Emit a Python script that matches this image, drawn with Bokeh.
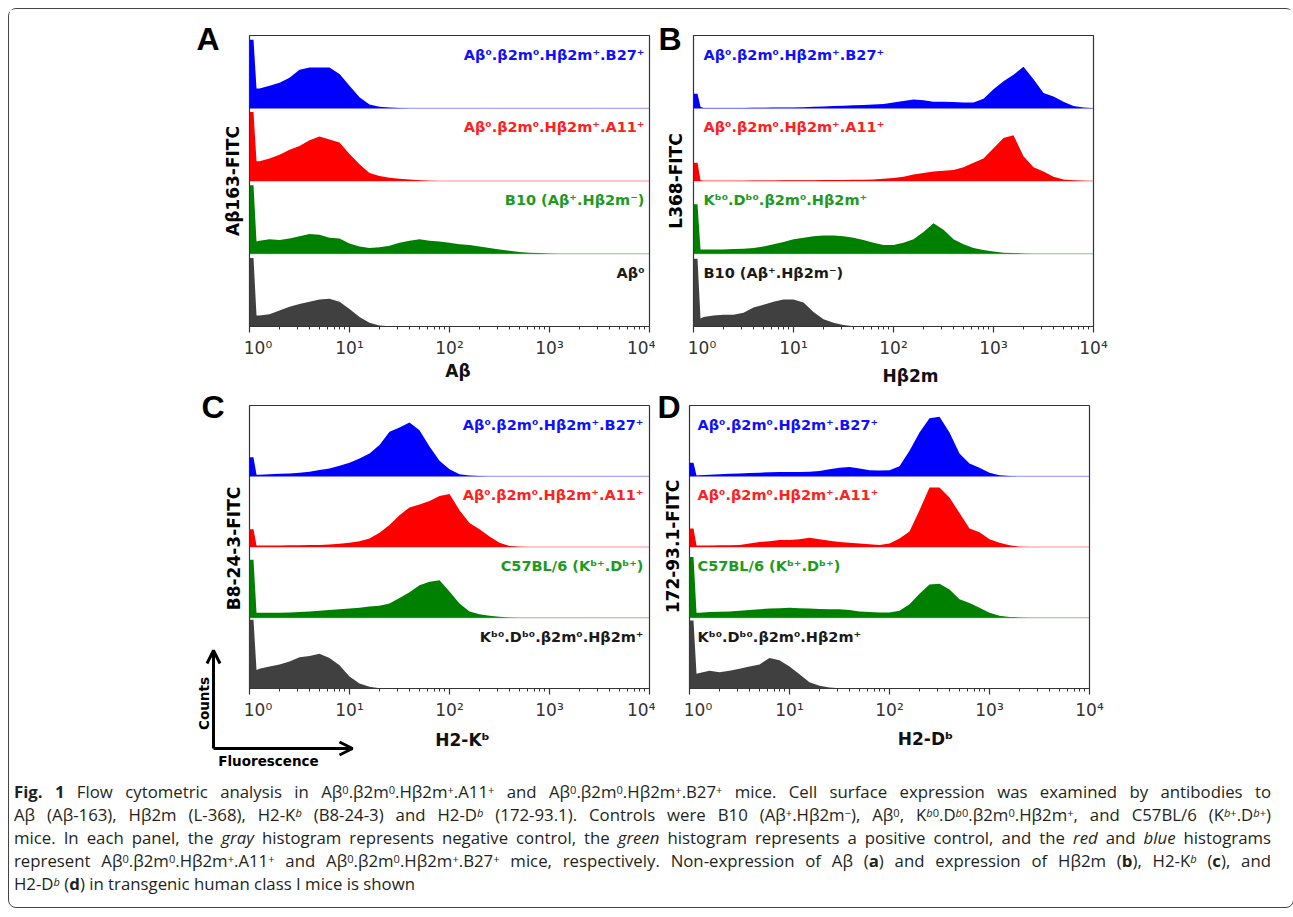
from math import pi
from bokeh.plotting import figure
from bokeh.models import Label, FixedTicker, Arrow, OpenHead, Div, LinearAxis
from bokeh.layouts import row, column
from bokeh.embed import file_html
from bokeh.resources import INLINE

# ---------------- data ----------------
# fluorescence positions (log10 of intensity) shared by all histograms
X_LOG10 = [0.0, 0.04, 0.07,
           0.1, 0.2, 0.3, 0.4, 0.5, 0.6, 0.7, 0.8, 0.9, 1.0,
           1.1, 1.2, 1.3, 1.4, 1.5, 1.6, 1.7, 1.8, 1.9, 2.0,
           2.1, 2.2, 2.3, 2.4, 2.5, 2.6, 2.7, 2.8, 2.9, 3.0,
           3.1, 3.2, 3.3, 3.4, 3.5, 3.6, 3.7, 3.8, 3.9, 4.0]

# counts, in percent of the height of one histogram strip
A_BLUE = [94, 94, 27,
          27, 31, 35, 42, 53, 56, 56, 56, 47, 31,
          15, 5, 2, 1, 0.5, 0, 0, 0, 0, 0,
          0, 0, 0, 0, 0, 0, 0, 0, 0, 0,
          0, 0, 0, 0, 0, 0, 0, 0, 0, 0]
A_RED = [95, 95, 27,
         27, 31, 36, 43, 48, 56, 61, 57, 53, 37,
         23, 11, 7, 4.5, 3, 2, 1, 0.5, 0, 0,
         0, 0, 0, 0, 0, 0, 0, 0, 0, 0,
         0, 0, 0, 0, 0, 0, 0, 0, 0, 0]
A_GREEN = [94, 94, 17,
           18, 20, 19, 21, 24, 27, 26, 22, 21, 14,
           10, 8, 9, 11, 15, 18, 20, 18, 17, 15,
           13, 12, 10, 8, 6, 4, 2.5, 1.5, 1, 0.5,
           0, 0, 0, 0, 0, 0, 0, 0, 0, 0]
A_GRAY = [94, 94, 15,
          15, 17, 22, 27, 31, 34, 37, 38, 34, 24,
          13, 5, 1.5, 0.5, 0, 0, 0, 0, 0, 0,
          0, 0, 0, 0, 0, 0, 0, 0, 0, 0,
          0, 0, 0, 0, 0, 0, 0, 0, 0, 0]

B_BLUE = [20, 20, 2,
          0.5, 0.5, 0.5, 0.5, 0.5, 0.8, 0.8, 1, 1, 1.2,
          1.5, 2, 2.5, 3, 3.5, 4, 4.5, 5, 6, 8,
          10, 12, 11, 9, 9, 8.5, 8, 8, 13, 26,
          37, 46, 57, 40, 21, 16, 9, 3, 1, 0]
B_RED = [25, 25, 1,
         0.5, 0.5, 0.5, 0.5, 0.5, 0.6, 0.7, 0.8, 0.9, 1,
         1.1, 1.2, 1.3, 1.4, 1.5, 1.7, 1.8, 2, 3, 4,
         6, 9, 11, 13, 14, 15, 19, 25, 31, 45,
         59, 63, 34, 19, 13, 6, 2, 1, 0.5, 0]
B_GREEN = [68, 68, 6,
           6, 6, 6, 6.5, 7, 8, 10, 13, 16, 20,
           22, 24, 25, 25, 24, 22, 19, 15, 12, 12,
           15, 20, 30, 42, 33, 20, 13, 8, 5, 3,
           1.5, 1, 0.5, 0, 0, 0, 0, 0, 0, 0]
B_GRAY = [93, 93, 11,
          13, 15, 16, 16, 19, 26, 30, 34, 37, 37,
          33, 20, 10, 5, 2, 0.5, 0, 0, 0, 0,
          0, 0, 0, 0, 0, 0, 0, 0, 0, 0,
          0, 0, 0, 0, 0, 0, 0, 0, 0, 0]

C_BLUE = [27, 27, 2,
          2, 3, 3.5, 4, 5, 6.5, 9, 11, 15, 19,
          25, 32, 44, 63, 69, 76, 65, 42, 22, 10,
          3, 1, 0.3, 0, 0, 0, 0, 0, 0, 0,
          0, 0, 0, 0, 0, 0, 0, 0, 0, 0]
C_RED = [25, 25, 2,
         2, 2, 2, 2.5, 2.5, 3, 3, 3.5, 4.5, 6,
         8, 12, 20, 31, 45, 56, 60, 65, 72, 75,
         52, 34, 25, 15, 6, 1.5, 0.5, 0, 0, 0,
         0, 0, 0, 0, 0, 0, 0, 0, 0, 0]
C_GREEN = [82, 82, 7,
           7, 7, 7, 7.5, 8, 9, 10, 11, 12, 13,
           14, 16, 17, 20, 28, 36, 46, 51, 53, 37,
           20, 9, 5, 3, 1.5, 0.5, 0, 0, 0, 0,
           0, 0, 0, 0, 0, 0, 0, 0, 0, 0]
C_GRAY = [97, 97, 26,
          28, 31, 34, 38, 44, 46, 49, 43, 33, 17,
          7, 2.5, 0.5, 0, 0, 0, 0, 0, 0, 0,
          0, 0, 0, 0, 0, 0, 0, 0, 0, 0,
          0, 0, 0, 0, 0, 0, 0, 0, 0, 0]

D_BLUE = [19, 19, 1,
          1.5, 2, 3, 3.5, 4, 4.5, 5, 5.5, 6, 6,
          6, 6.5, 7.5, 10, 12, 13, 11, 8.5, 8, 8.5,
          14, 36, 62, 82, 84, 62, 32, 18, 12, 5,
          1.5, 0.5, 0, 0, 0, 0, 0, 0, 0, 0]
D_RED = [26, 26, 2,
         2, 2, 2.5, 2.5, 3, 5, 7, 8, 10, 10,
         11, 13, 11, 9, 7, 6, 5, 4, 3, 5,
         12, 22, 52, 84, 84, 70, 48, 26, 21, 11,
         6, 2.5, 0.5, 0, 0, 0, 0, 0, 0, 0]
D_GREEN = [86, 86, 7,
           7, 8, 8.5, 9, 10, 11, 12, 13, 13.5, 14,
           13.5, 13, 12.5, 12, 12, 11, 9, 8, 7.5, 7.5,
           10, 19, 34, 47, 48, 40, 26, 21, 14, 7,
           3, 1, 0.5, 0, 0, 0, 0, 0, 0, 0]
D_GRAY = [96, 96, 21,
          22, 25, 23, 25, 28, 31, 34, 43, 40, 31,
          20, 9, 4, 1.5, 0.5, 0, 0, 0, 0, 0,
          0, 0, 0, 0, 0, 0, 0, 0, 0, 0,
          0, 0, 0, 0, 0, 0, 0, 0, 0, 0]

PANEL_LETTERS = ["A", "B", "C", "D"]
X_TITLES = ["Aβ", "Hβ2m", "H2-Kᵇ", "H2-Dᵇ"]
Y_TITLES = ["Aβ163-FITC", "L368-FITC", "B8-24-3-FITC", "172-93.1-FITC"]
LBL_B27 = "Aβ⁰.β2m⁰.Hβ2m⁺.B27⁺"
LBL_A11 = "Aβ⁰.β2m⁰.Hβ2m⁺.A11⁺"
A_LABELS = [LBL_B27, LBL_A11, "B10 (Aβ⁺.Hβ2m⁻)", "Aβ⁰"]
B_LABELS = [LBL_B27, LBL_A11, "Kᵇ⁰.Dᵇ⁰.β2m⁰.Hβ2m⁺", "B10 (Aβ⁺.Hβ2m⁻)"]
C_LABELS = [LBL_B27, LBL_A11, "C57BL/6 (Kᵇ⁺.Dᵇ⁺)", "Kᵇ⁰.Dᵇ⁰.β2m⁰.Hβ2m⁺"]
D_LABELS = [LBL_B27, LBL_A11, "C57BL/6 (Kᵇ⁺.Dᵇ⁺)", "Kᵇ⁰.Dᵇ⁰.β2m⁰.Hβ2m⁺"]
TICKS = [1, 10, 100, 1000, 10000]
TICK_LABELS = ["\u2002\u200210⁰", "10¹", "10²", "10³", "10⁴"]

FILL_COLORS = ["#0000FF", "#FF0000", "#008000", "#404040"]
TEXT_COLORS = ["#1010FF", "#FF2020", "#1E9A1E", "#1A1A1A"]

FONT = "DejaVu Sans"
XS = [10 ** v for v in X_LOG10]
MINOR = [m * 10 ** d for d in range(4) for m in range(2, 10)]

# layout / style settings per panel (pixels)
PANELS = [
    dict(series=[A_BLUE, A_RED, A_GREEN, A_GRAY], labels=A_LABELS, align="right",
         fh=291, bl=240, br=6, bt=26, bb=66, let_y=3.95, let_so=0, ysoff=7,
         xpad="\u2003", xsoff=0, ldx=395),
    dict(series=[B_BLUE, B_RED, B_GREEN, B_GRAY], labels=B_LABELS, align="left",
         fh=291, bl=34, br=200, bt=26, bb=66, let_y=3.95, let_so=-19, ysoff=8,
         xpad="\u2003\u2003", xsoff=5, ldx=10),
    dict(series=[C_BLUE, C_RED, C_GREEN, C_GRAY], labels=C_LABELS, align="right",
         fh=283, ldx=394, box=(240, 6, 13, 85), let=(-48, 282), yt=(-16, 140),
         xt=(213, -51), key=True),
    dict(series=[D_BLUE, D_RED, D_GREEN, D_GRAY], labels=D_LABELS, align="left",
         fh=283, ldx=8, box=(34, 200, 13, 85), let=(-32, 282), yt=(-17, 142),
         xt=(236, -50), key=False),
]


def style_xaxis(ax):
    ax.ticker = FixedTicker(ticks=TICKS, minor_ticks=MINOR)
    ax.major_label_overrides = {t: s for t, s in zip(TICKS, TICK_LABELS)}
    ax.axis_line_color = "#333333"
    ax.axis_line_width = 1.2
    ax.major_tick_line_color = "#333333"
    ax.major_tick_line_width = 1.2
    ax.major_tick_out = 6
    ax.major_tick_in = 0
    ax.minor_tick_line_color = "#333333"
    ax.minor_tick_out = 3
    ax.minor_tick_in = 0
    ax.major_label_standoff = 5
    ax.major_label_text_font = FONT
    ax.major_label_text_font_size = "17px"
    ax.major_label_text_color = "#333333"


def add_histograms(p, cfg, sp):
    for i, vals in enumerate(cfg["series"]):
        base = 3 - i
        p.varea(x=XS, y1=[base] * len(XS), y2=[base + v / 100.0 for v in vals],
                fill_color=FILL_COLORS[i])
        if i < 3:
            p.segment(x0=[1], x1=[10000], y0=[base], y1=[base],
                      line_color=FILL_COLORS[i], line_width=1, line_alpha=0.45)
        p.add_layout(Label(x=10 ** (cfg["ldx"] / 100.0), y=base + 1 - 19 / sp,
                           text=cfg["labels"][i],
                           text_align=cfg["align"], text_baseline="middle",
                           text_font=FONT, text_font_style="bold", text_font_size="14.5px",
                           text_color=TEXT_COLORS[i]))


def make_panel(k):
    cfg = PANELS[k]
    fh = cfg["fh"]
    sp = fh / 4.0  # pixels per strip

    p = figure(title=None, frame_width=400, frame_height=fh, x_axis_type="log",
               x_range=(1, 10000), y_range=(0, 4), frame_align=False,
               output_backend="svg", toolbar_location=None,
               min_border_left=cfg["bl"], min_border_right=cfg["br"],
               min_border_top=cfg["bt"], min_border_bottom=cfg["bb"],
               background_fill_color="white", border_fill_color="white",
               outline_line_color="#333333", outline_line_width=1.2)
    p.xgrid.visible = False
    p.ygrid.visible = False

    # y axis: only its title is shown
    yax = p.yaxis[0]
    yax.ticker = FixedTicker(ticks=[])
    yax.axis_line_color = None
    yax.major_tick_line_color = None
    yax.minor_tick_line_color = None
    yax.axis_label = Y_TITLES[k]
    yax.axis_label_text_font = FONT
    yax.axis_label_text_font_style = "bold"
    yax.axis_label_text_font_size = "17px"
    yax.axis_label_text_color = "black"
    yax.axis_label_standoff = cfg["ysoff"]

    # second left axis carrying the panel letter
    lax = LinearAxis(ticker=FixedTicker(ticks=[cfg["let_y"]]),
                     major_label_overrides={cfg["let_y"]: PANEL_LETTERS[k]},
                     axis_line_color=None, major_tick_line_color=None,
                     minor_tick_line_color=None, major_tick_out=0, major_tick_in=0,
                     major_label_standoff=cfg["let_so"],
                     major_label_text_font="Liberation Sans",
                     major_label_text_font_style="bold",
                     major_label_text_font_size="32px",
                     major_label_text_color="black")
    p.add_layout(lax, "left")

    ax = p.xaxis[0]
    style_xaxis(ax)
    ax.axis_label = cfg["xpad"] + X_TITLES[k]
    ax.axis_label_text_font = FONT
    ax.axis_label_text_font_style = "bold"
    ax.axis_label_text_font_size = "17px"
    ax.axis_label_text_color = "#111111"
    ax.axis_label_standoff = cfg["xsoff"]

    add_histograms(p, cfg, sp)
    return p


def make_panel_ext(k):
    # lower panels: the frame covers the whole figure so that the letter,
    # titles and the Counts / Fluorescence key sit inside it
    cfg = PANELS[k]
    sp = cfg["fh"] / 4.0
    left, right, top, bottom = cfg["box"]   # box offsets inside the frame

    def fx(dx):
        return 10 ** (dx / 100.0)

    def fy(dy):
        return dy / sp

    p = figure(title=None, frame_width=left + 400 + right, frame_height=top + cfg["fh"] + bottom,
               x_axis_type="log", frame_align=False,
               x_range=(fx(-left), fx(400 + right)), y_range=(fy(-bottom), 4 + fy(top)),
               output_backend="svg", toolbar_location=None,
               min_border_left=0, min_border_right=0, min_border_top=0, min_border_bottom=40,
               background_fill_color="white", border_fill_color="white",
               outline_line_color=None)
    p.xgrid.visible = False
    p.ygrid.visible = False
    p.yaxis.visible = False

    ax = p.xaxis[0]
    style_xaxis(ax)
    ax.fixed_location = 0
    ax.axis_line_color = None

    p.quad(left=[1], right=[10000], bottom=[0], top=[4], fill_color=None,
           line_color="#333333", line_width=1.2)
    add_histograms(p, cfg, sp)

    lx, ly = cfg["let"]
    p.add_layout(Label(x=fx(lx), y=fy(ly), text=PANEL_LETTERS[k],
                       text_align="left", text_baseline="middle",
                       text_font="Liberation Sans", text_font_style="bold",
                       text_font_size="32px", text_color="black"))
    yx, yy = cfg["yt"]
    p.add_layout(Label(x=fx(yx), y=fy(yy), text=Y_TITLES[k], angle=pi / 2,
                       text_align="center", text_baseline="middle",
                       text_font=FONT, text_font_style="bold", text_font_size="17px",
                       text_color="black"))
    tx, ty = cfg["xt"]
    p.add_layout(Label(x=fx(tx), y=fy(ty), text=X_TITLES[k],
                       text_align="center", text_baseline="middle",
                       text_font=FONT, text_font_style="bold", text_font_size="17px",
                       text_color="#111111"))
    if cfg["key"]:
        # Counts / Fluorescence key
        p.add_layout(Arrow(end=OpenHead(size=13, line_width=3, line_color="black"),
                           x_start=fx(-36), y_start=fy(-60), x_end=fx(-36), y_end=fy(38),
                           line_width=3, line_color="black"))
        p.add_layout(Arrow(end=OpenHead(size=13, line_width=3, line_color="black"),
                           x_start=fx(-36), y_start=fy(-60), x_end=fx(103), y_end=fy(-60),
                           line_width=3, line_color="black"))
        p.add_layout(Label(x=fx(-46), y=fy(-15), text="Counts", angle=pi / 2,
                           text_align="center", text_baseline="middle",
                           text_font=FONT, text_font_style="bold", text_font_size="13.5px",
                           text_color="black"))
        p.add_layout(Label(x=fx(19), y=fy(-72), text="Fluorescence",
                           text_align="center", text_baseline="middle",
                           text_font=FONT, text_font_style="bold", text_font_size="13.5px",
                           text_color="black"))
    return p


plots = [make_panel(0), make_panel(1), make_panel_ext(2), make_panel_ext(3)]

SUP = '<sup style="font-size:0.66em;line-height:0;vertical-align:0.38em">'


def s(t):
    return SUP + t + "</sup>"


CAPTION_LINES = [
    "<b>Fig. 1</b> Flow cytometric analysis in Aβ" + s("0") + ".β2m" + s("0") + ".Hβ2m" + s("+") + ".A11" + s("+")
    + " and Aβ" + s("0") + ".β2m" + s("0") + ".Hβ2m" + s("+") + ".B27" + s("+")
    + " mice. Cell surface expression was examined by antibodies to",
    "Aβ (Aβ-163), Hβ2m (L-368), H2-K" + s("<i>b</i>") + " (B8-24-3) and H2-D" + s("<i>b</i>")
    + " (172-93.1). Controls were B10 (Aβ" + s("+") + ".Hβ2m" + s("−") + "), Aβ" + s("0") + ", K" + s("<i>b</i>0")
    + ".D" + s("<i>b</i>0") + ".β2m" + s("0") + ".Hβ2m" + s("+") + ", and C57BL/6 (K" + s("<i>b</i>+") + ".D" + s("<i>b</i>+") + ")",
    "mice. In each panel, the <i>gray</i> histogram represents negative control, the <i>green</i> histogram represents a positive control, and the <i>red</i> and <i>blue</i> histograms",
    "represent Aβ" + s("0") + ".β2m" + s("0") + ".Hβ2m" + s("+") + ".A11" + s("+") + " and Aβ" + s("0") + ".β2m" + s("0")
    + ".Hβ2m" + s("+") + ".B27" + s("+") + " mice, respectively. Non-expression of Aβ (<b>a</b>) and expression of Hβ2m (<b>b</b>), H2-K"
    + s("<i>b</i>") + " (<b>c</b>), and",
    "H2-D" + s("<i>b</i>") + " (<b>d</b>) in transgenic human class I mice is shown",
]

JUST = '<div style="text-align:justify;text-align-last:justify">'
html = ('<div style="font-family:\'Open Sans\',sans-serif;font-weight:400;'
        'font-size:16.8px;line-height:23px;color:#231f20;padding:7px 0 0 5px;width:1262px">'
        + "".join(JUST + ln + '</div>' for ln in CAPTION_LINES[:-1])
        + '<div>' + CAPTION_LINES[-1] + '</div></div>')
caption = Div(text=html, width=1281, height=134, margin=(-40, 0, 0, 0))

root = column(row(plots[0], plots[1]), row(plots[2], plots[3]), caption,
              margin=(8, 0, 0, 8),
              styles={"border": "1px solid #444444", "border-radius": "8px"})

open("out.html", "w").write(file_html(root, INLINE, title="Fig. 1"))
